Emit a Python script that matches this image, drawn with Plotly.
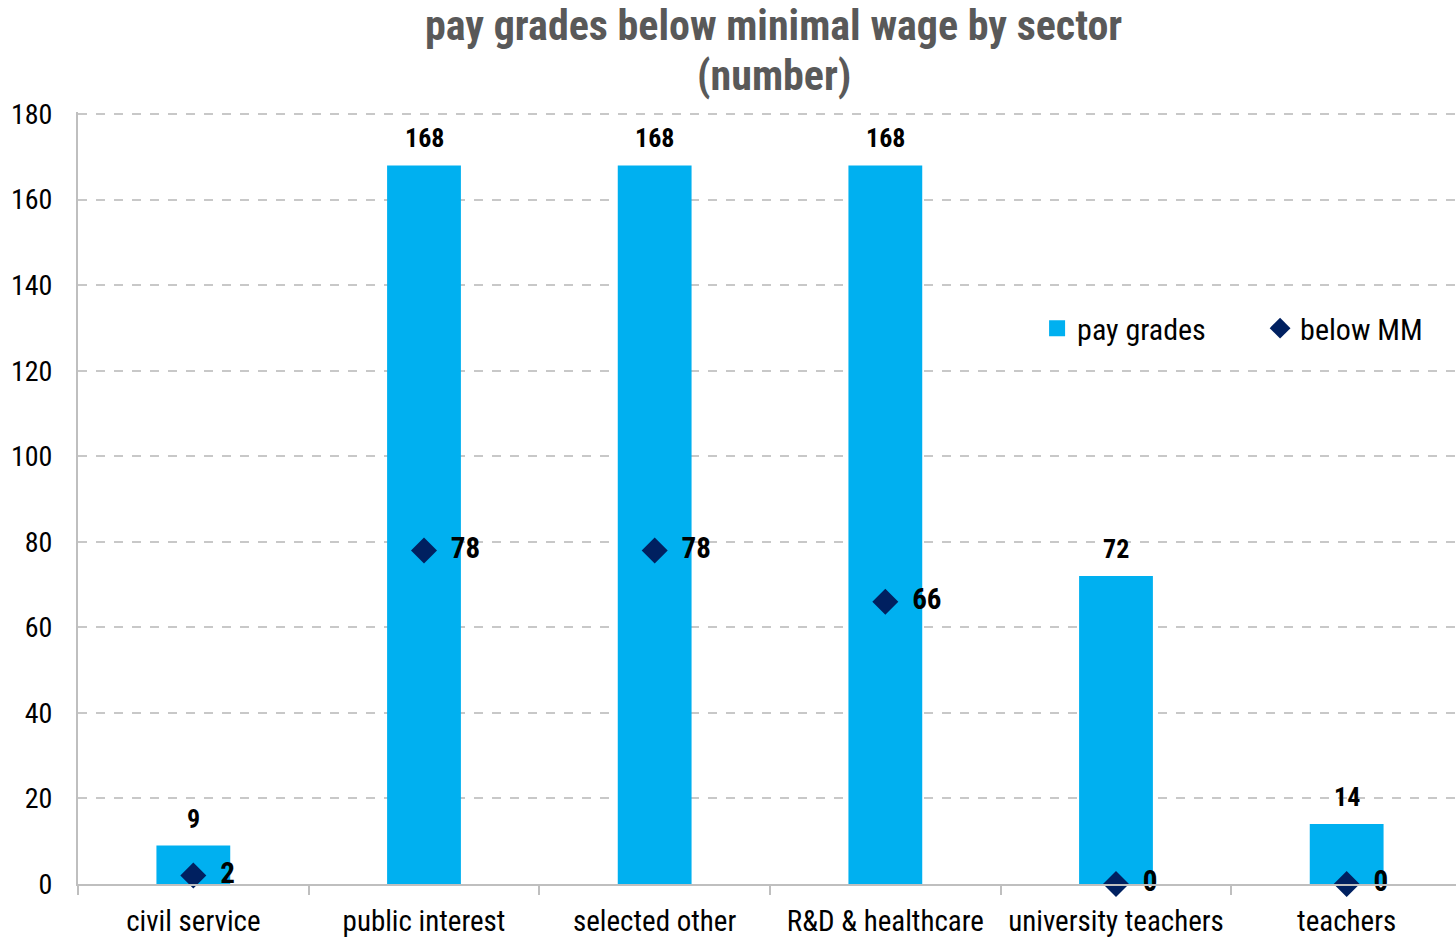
import plotly.graph_objects as go

sectors = ["civil service", "public interest", "selected other",
           "R&D & healthcare", "university teachers", "teachers"]
pay_grades = [9, 168, 168, 168, 72, 14]
below_mm = [2, 78, 78, 66, 0, 0]
y_ticks = [0, 20, 40, 60, 80, 100, 120, 140, 160, 180]
title_lines = ["pay grades below minimal wage by sector", "(number)"]

FONT = "Liberation Sans Narrow, Arial Narrow, Roboto Condensed, sans-serif"
BAR_COLOR = "#00B0F0"
DIAMOND_COLOR = "#002060"
AXIS_GRAY = "#BFBFBF"

fig = go.Figure()

fig.add_trace(go.Bar(
    x=sectors, y=pay_grades, name="pay grades",
    marker=dict(color=BAR_COLOR, line=dict(width=0)),
    width=0.32, showlegend=False,
))

# legend entry with a larger square swatch for the bars
fig.add_trace(go.Scatter(
    x=[None], y=[None], name="pay grades", mode="markers",
    marker=dict(symbol="square", size=17, color=BAR_COLOR),
))

fig.add_trace(go.Scatter(
    x=sectors, y=below_mm, name="below MM",
    mode="markers+text",
    marker=dict(symbol="diamond", size=20, color=DIAMOND_COLOR),
    text=[f"  {v}" for v in below_mm],
    textposition="middle right",
    textfont=dict(family=FONT, size=29, color="black", weight="bold"),
    cliponaxis=False,
))

# value labels above the bars
for s, v in zip(sectors, pay_grades):
    fig.add_annotation(
        x=s, y=v, text=f"<b>{v}</b>", showarrow=False,
        yanchor="bottom", yshift=10,
        font=dict(family=FONT, size=26, color="black"),
    )

# two-line chart title
for line, shift in zip(title_lines, [87, 37]):
    fig.add_annotation(
        xref="paper", yref="paper", x=0.505, y=1, yanchor="middle",
        yshift=shift, text=f"<b>{line}</b>", showarrow=False,
        font=dict(family=FONT, size=42, color="#595959"),
    )

fig.update_layout(
    width=1456, height=941,
    margin=dict(l=78, r=0, t=112, b=57, autoexpand=False),
    paper_bgcolor="white", plot_bgcolor="white",
    font=dict(family=FONT, color="black"),
    showlegend=True,
    legend=dict(
        orientation="h", x=0.696, xanchor="left", y=0.72, yanchor="middle",
        font=dict(family=FONT, size=30, color="black"),
        bgcolor="rgba(0,0,0,0)", itemwidth=30,
        entrywidthmode="pixels", entrywidth=178,
    ),
)

fig.update_xaxes(
    range=[-0.5, 5.474], automargin=False, tickangle=0,
    showline=True, linecolor=AXIS_GRAY, linewidth=2,
    ticks="outside", tickson="boundaries", ticklen=9, tickcolor=AXIS_GRAY,
    tickwidth=2, ticklabelstandoff=10,
    showgrid=False,
    tickfont=dict(family=FONT, size=29, color="black"),
)

fig.update_yaxes(
    range=[0, 180.5], tickvals=y_ticks, automargin=False,
    showline=True, linecolor=AXIS_GRAY, linewidth=2,
    showgrid=True, gridcolor="#C8C8C8", griddash="dash", gridwidth=1.5,
    zeroline=False, ticks="", ticklabelstandoff=18,
    tickfont=dict(family=FONT, size=28, color="black"),
)

fig.write_html("out.html")
